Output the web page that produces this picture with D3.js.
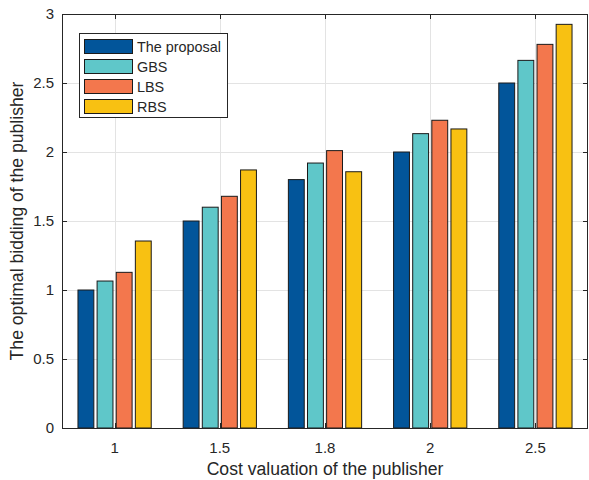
<!DOCTYPE html>
<html>
<head>
<meta charset="utf-8">
<script src="https://cdn.jsdelivr.net/npm/d3@7"></script>
<style>
  body { margin: 0; background: #fff; }
  text { font-family: "Liberation Sans", Arial, sans-serif; fill: #262626; }
</style>
</head>
<body>
<script>
// data
const categories = ["1", "1.5", "1.8", "2", "2.5"];
const seriesNames = ["The proposal", "GBS", "LBS", "RBS"];
const proposal = [1.0, 1.5, 1.8, 2.0, 2.5];
const gbs = [1.065, 1.6, 1.92, 2.133, 2.664];
const lbs = [1.128, 1.679, 2.01, 2.23, 2.78];
const rbs = [1.355, 1.87, 1.857, 2.167, 2.925];
const yTicks = [0, 0.5, 1, 1.5, 2, 2.5, 3];
const colors = ["#02559a", "#5fc7c9", "#f3774d", "#f8c112"];

const series = [proposal, gbs, lbs, rbs];

var width = 589, height = 480;
var margin = {left: 62, right: 1, top: 14, bottom: 52};

var svg = d3.select("body").append("svg")
  .attr("width", width)
  .attr("height", height);

// x as continuous group index, like matlab's bar with xlim [0.5, n+0.5]
var x = d3.scaleLinear()
  .domain([0.5, categories.length + 0.5])
  .range([margin.left, width - margin.right]);

var y = d3.scaleLinear()
  .domain([0, 3])
  .range([height - margin.bottom, margin.top]);

var x0 = margin.left, x1 = width - margin.right;
var y0 = height - margin.bottom, y1 = margin.top;

// grid
var grid = svg.append("g").attr("stroke", "#e3e3e3").attr("stroke-width", 1);
grid.selectAll(".gy").data(yTicks.slice(1, -1)).enter().append("line")
  .attr("x1", x0).attr("x2", x1)
  .attr("y1", d => Math.round(y(d)) + 0.5).attr("y2", d => Math.round(y(d)) + 0.5);
grid.selectAll(".gx").data(categories).enter().append("line")
  .attr("x1", (d, i) => Math.round(x(i + 1)) + 0.5).attr("x2", (d, i) => Math.round(x(i + 1)) + 0.5)
  .attr("y1", y0).attr("y2", y1);

// bars
var nS = series.length;
var groupWidth = Math.min(0.8, nS / (nS + 1.5));
var step = groupWidth / nS;
var barW = step * 0.83;

series.forEach(function(vals, s) {
  svg.append("g").selectAll("rect").data(vals).enter().append("rect")
    .attr("x", (d, i) => x(i + 1 - groupWidth / 2 + step * s + step / 2 - barW / 2))
    .attr("width", x(barW) - x(0))
    .attr("y", d => y(d))
    .attr("height", d => y(0) - y(d))
    .attr("fill", colors[s])
    .attr("stroke", "#1a1a1a")
    .attr("stroke-width", 1);
});

// axes box
var axisColor = "#262626";
svg.append("rect")
  .attr("x", x0 + 0.5).attr("y", y1 + 0.5)
  .attr("width", x1 - x0 - 1).attr("height", y0 - y1)
  .attr("fill", "none").attr("stroke", axisColor).attr("stroke-width", 1);

var tickLen = 5;
var ticks = svg.append("g").attr("stroke", axisColor).attr("stroke-width", 1);
yTicks.forEach(function(t) {
  var yy = Math.round(y(t)) + 0.5;
  ticks.append("line").attr("x1", x0).attr("x2", x0 + tickLen).attr("y1", yy).attr("y2", yy);
  ticks.append("line").attr("x1", x1 - tickLen).attr("x2", x1).attr("y1", yy).attr("y2", yy);
});
categories.forEach(function(c, i) {
  var xx = Math.round(x(i + 1)) + 0.5;
  ticks.append("line").attr("x1", xx).attr("x2", xx).attr("y1", y0).attr("y2", y0 - tickLen);
  ticks.append("line").attr("x1", xx).attr("x2", xx).attr("y1", y1).attr("y2", y1 + tickLen);
});

// tick labels
svg.append("g").selectAll("text").data(yTicks).enter().append("text")
  .attr("x", x0 - 8)
  .attr("y", d => y(d))
  .attr("dy", "0.36em")
  .attr("text-anchor", "end")
  .style("font-size", "15px")
  .text(d => d);

svg.append("g").selectAll("text").data(categories).enter().append("text")
  .attr("x", (d, i) => x(i + 1))
  .attr("y", y0 + 25)
  .attr("text-anchor", "middle")
  .style("font-size", "15px")
  .text(d => d);

// axis labels
svg.append("text")
  .attr("x", (x0 + x1) / 2)
  .attr("y", 475)
  .attr("text-anchor", "middle")
  .style("font-size", "17.6px")
  .text("Cost valuation of the publisher");

svg.append("text")
  .attr("transform", "translate(23," + ((y0 + y1) / 2) + ") rotate(-90)")
  .attr("text-anchor", "middle")
  .style("font-size", "17.6px")
  .text("The optimal bidding of the publisher");

// legend
var legend = svg.append("g").attr("transform", "translate(79,33)");
legend.append("rect")
  .attr("x", 0.5).attr("y", 0.5)
  .attr("width", 148).attr("height", 84)
  .attr("fill", "#fff").attr("stroke", axisColor).attr("stroke-width", 1);

var item = legend.selectAll(".item").data(seriesNames).enter().append("g")
  .attr("transform", (d, i) => "translate(0," + (6 + i * 20) + ")");
item.append("rect")
  .attr("x", 5.5).attr("y", 0.5)
  .attr("width", 48).attr("height", 14)
  .attr("fill", (d, i) => colors[i])
  .attr("stroke", "#1a1a1a").attr("stroke-width", 1);
item.append("text")
  .attr("x", 58)
  .attr("y", 12.5)
  .style("font-size", "14.4px")
  .text(d => d);
</script>
</body>
</html>
